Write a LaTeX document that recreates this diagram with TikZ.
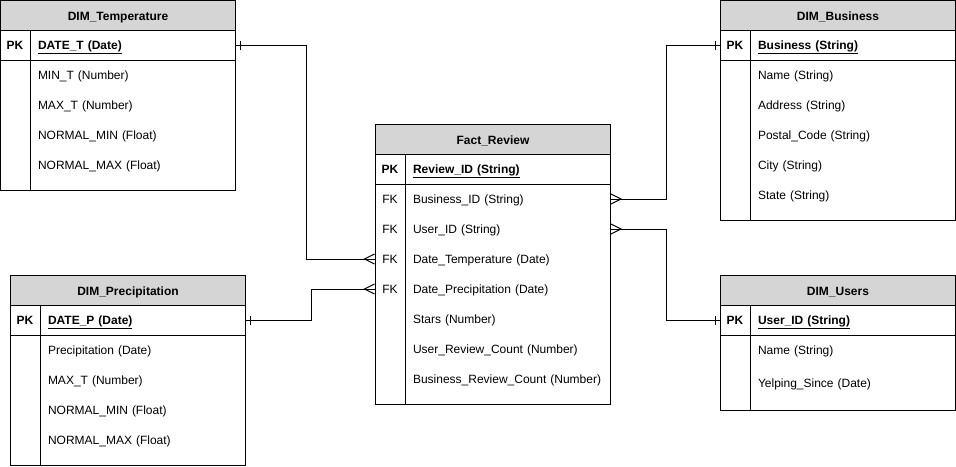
\documentclass[tikz,border=0pt]{standalone}
\usepackage{fontspec}
\setmainfont{Liberation Sans}
\usepackage{xcolor}
\usetikzlibrary{positioning}
\definecolor{headgray}{RGB}{213,213,213}
\newcommand{\erfont}{\fontsize{12pt}{14pt}\selectfont}
\tikzset{
	% titulo da tabela
	tabhead/.style={
		draw,
		fill=headgray,
		anchor=north west,
		minimum width=235pt,
		minimum height=30pt,
		inner sep=0pt,
		text height=10pt,
		text depth=1pt,
		font=\erfont\bfseries
	}, %
	% PK / FK
	keycell/.style={
		minimum width=30pt,
		minimum height=30pt,
		inner sep=0pt,
		text height=10pt,
		text depth=1pt,
		font=\erfont
	}, %
	% campo
	field/.style={
		anchor=west,
		text width=190pt,
		align=left,
		inner xsep=7.5pt,
		inner ysep=0pt,
		minimum height=30pt,
		text height=10pt,
		text depth=1pt,
		font=\erfont
	}, %
	% um
	erone/.pic={\draw (4,-4.5)--(4,4.5);},
	% muitos
	ermany/.pic={\draw (0,-5)--(10,0)--(0,5);}
}

\begin{document}
\begin{tikzpicture}[x=1pt, y=-1pt, line width=1pt]
	\useasboundingbox (0,0) rectangle (956,466);

	% DIM_Temperature
	\draw (0,30) rectangle (235,190);
	\draw (0,60)--(235,60);
	\draw (30,30)--(30,190);
	\node[tabhead] (temp) at (0,0) {DIM\_Temperature};
	\node[keycell, font=\erfont\bfseries] (temp-k) at (15,45) {PK};
	\node[field, font=\erfont\bfseries] (temp-pk) at (30,45) {\underline{DATE\_T (Date)}};
	\foreach \f [count=\i] in {MIN\_T (Number), MAX\_T (Number), NORMAL\_MIN (Float), NORMAL\_MAX (Float)}
		\node[field] (temp-f\i) at (30,{45+30*\i}) {\f};

	% DIM_Precipitation
	\draw (10,305) rectangle (245,465);
	\draw (10,335)--(245,335);
	\draw (40,305)--(40,465);
	\node[tabhead] (prec) at (10,275) {DIM\_Precipitation};
	\node[keycell, font=\erfont\bfseries] (prec-k) at (25,320) {PK};
	\node[field, font=\erfont\bfseries] (prec-pk) at (40,320) {\underline{DATE\_P (Date)}};
	\foreach \f [count=\i] in {Precipitation (Date), MAX\_T (Number), NORMAL\_MIN (Float), NORMAL\_MAX (Float)}
		\node[field] (prec-f\i) at (40,{320+30*\i}) {\f};

	% Fact_Review
	\draw (375,154) rectangle (610,404);
	\draw (375,184)--(610,184);
	\draw (405,154)--(405,404);
	\node[tabhead] (fact) at (375,124) {Fact\_Review};
	\node[keycell, font=\erfont\bfseries] (fact-k) at (390,169) {PK};
	\node[field, font=\erfont\bfseries] (fact-pk) at (405,169) {\underline{Review\_ID (String)}};
	\foreach \i in {1,...,4}
		\node[keycell] (fact-k\i) at (390,{169+30*\i}) {FK};
	\foreach \f [count=\i] in {Business\_ID (String), User\_ID (String), Date\_Temperature (Date), Date\_Precipitation (Date), Stars (Number), User\_Review\_Count (Number), Business\_Review\_Count (Number)}
		\node[field] (fact-f\i) at (405,{169+30*\i}) {\f};

	% DIM_Business
	\draw (720,30) rectangle (955,220);
	\draw (720,60)--(955,60);
	\draw (750,30)--(750,220);
	\node[tabhead] (bus) at (720,0) {DIM\_Business};
	\node[keycell, font=\erfont\bfseries] (bus-k) at (735,45) {PK};
	\node[field, font=\erfont\bfseries] (bus-pk) at (750,45) {\underline{Business (String)}};
	\foreach \f [count=\i] in {Name (String), Address (String), Postal\_Code (String), City (String), State (String)}
		\node[field] (bus-f\i) at (750,{45+30*\i}) {\f};

	% DIM_Users
	\draw (720,305) rectangle (955,410);
	\draw (720,335)--(955,335);
	\draw (750,305)--(750,410);
	\node[tabhead] (user) at (720,275) {DIM\_Users};
	\node[keycell, font=\erfont\bfseries] (user-k) at (735,320) {PK};
	\node[field, font=\erfont\bfseries] (user-pk) at (750,320) {\underline{User\_ID (String)}};
	\node[field] (user-f1) at (750,350) {Name (String)};
	\node[field] (user-f2) at (750,383) {Yelping\_Since (Date)};

	% ligacoes
	\draw (temp-pk.east)--++(70,0) |- (fact-k3.west);
	\draw (prec-pk.east)--++(65,0) |- (fact-k4.west);
	\draw (fact-f1.east)--++(55,0) |- (bus-k.west);
	\draw (fact-f2.east)--++(55,0) |- (user-k.west);

	% cardinalidades
	\pic at (temp-pk.east) {erone};
	\pic at (prec-pk.east) {erone};
	\pic[xscale=-1] at (bus-k.west) {erone};
	\pic[xscale=-1] at (user-k.west) {erone};
	\pic[xscale=-1] at (fact-k3.west) {ermany};
	\pic[xscale=-1] at (fact-k4.west) {ermany};
	\pic at (fact-f1.east) {ermany};
	\pic at (fact-f2.east) {ermany};
\end{tikzpicture}
\end{document}
